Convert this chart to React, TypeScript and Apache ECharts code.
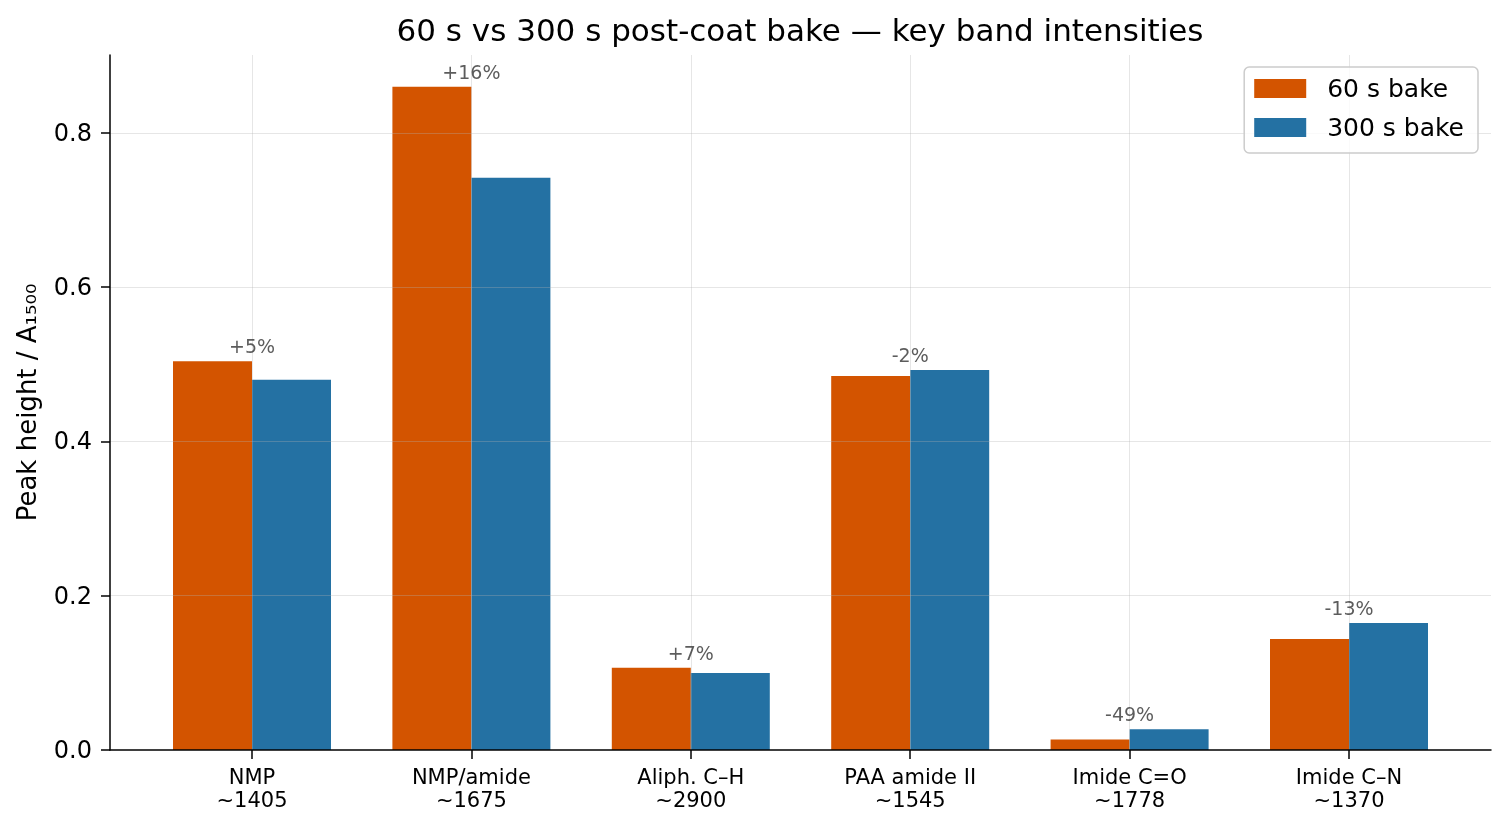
import React, { useEffect, useRef } from "react";
import * as echarts from "echarts";

const categories = [
  "NMP\n~1405",
  "NMP/amide\n~1675",
  "Aliph. C–H\n~2900",
  "PAA amide II\n~1545",
  "Imide C=O\n~1778",
  "Imide C–N\n~1370",
];
const seriesNames = ["60 s bake", "300 s bake"];
const bake60 = [0.504, 0.86, 0.1067, 0.485, 0.0137, 0.144];
const bake300 = [0.48, 0.742, 0.0998, 0.4927, 0.027, 0.1647];
const changeLabels = ["+5%", "+16%", "+7%", "-2%", "-49%", "-13%"];
const yTicks = [0, 0.2, 0.4, 0.6, 0.8];
const yMax = 0.901;
const titleText = "60 s vs 300 s post-coat bake — key band intensities";
const yName = "Peak height / A₁₅₀₀";

const FONT = "DejaVu Sans";
const GRID_LINE = { color: "rgba(176,176,176,0.32)", width: 1 };
const BLACK_LINE = { color: "#000", width: 1.5 };

export default function App() {
  const ref = useRef<HTMLDivElement>(null);
  useEffect(() => {
    if (!ref.current) return;
    const chart = echarts.init(ref.current, undefined, { renderer: "svg" });
    const labelTops = bake60.map((v, i) => Math.max(v, bake300[i]));
    chart.setOption({
      animation: false,
      textStyle: { fontFamily: FONT },
      graphic: [
        {
          type: "text",
          x: 800,
          y: 30,
          z: 10,
          style: {
            text: titleText,
            fontSize: 31,
            fontFamily: FONT,
            fill: "#000",
            textAlign: "center",
            textVerticalAlign: "middle",
          },
        },
      ],
      legend: {
        data: seriesNames,
        orient: "vertical",
        right: 29,
        top: 67,
        itemWidth: 52,
        itemHeight: 19,
        itemGap: 14,
        icon: "rect",
        padding: [9, 14, 13, 10],
        borderColor: "#cccccc",
        borderWidth: 1.5,
        borderRadius: 5,
        backgroundColor: "rgba(255,255,255,0.8)",
        textStyle: {
          fontSize: 25,
          lineHeight: 25,
          color: "#000",
          fontFamily: FONT,
          padding: [0, 0, 0, 16],
        },
        z: 8,
      },
      grid: [
        { left: 110, right: 16, top: 55, bottom: 77 },
        { left: 252, right: 158, top: 55, bottom: 77 },
      ],
      xAxis: [
        {
          gridIndex: 0,
          type: "value",
          min: 0,
          max: 1,
          axisLine: { show: true, onZero: false, lineStyle: BLACK_LINE },
          axisTick: { show: false },
          axisLabel: { show: false },
          splitLine: { show: false },
          z: 5,
        },
        {
          gridIndex: 1,
          type: "category",
          data: categories,
          boundaryGap: false,
          axisLine: { show: false },
          axisTick: { show: true, length: 9, lineStyle: BLACK_LINE },
          axisLabel: {
            interval: 0,
            fontSize: 21,
            lineHeight: 23.5,
            color: "#000",
            margin: 15,
            fontFamily: FONT,
          },
          splitLine: { show: true, lineStyle: GRID_LINE },
          z: 5,
        },
      ],
      yAxis: [
        {
          gridIndex: 0,
          type: "value",
          min: 0,
          max: yMax,
          interval: 0.2,
          axisLine: { show: true, lineStyle: BLACK_LINE },
          axisTick: { show: true, length: 9, customValues: yTicks, lineStyle: BLACK_LINE },
          axisLabel: {
            customValues: yTicks,
            formatter: (v: number) => v.toFixed(1),
            fontSize: 24,
            color: "#000",
            margin: 18,
            fontFamily: FONT,
          },
          splitLine: { show: true, showMinLine: false, showMaxLine: true, lineStyle: GRID_LINE },
          name: yName,
          nameLocation: "middle",
          nameGap: 70,
          nameTextStyle: { fontSize: 26, color: "#000", fontFamily: FONT },
          z: 5,
        },
        { gridIndex: 1, type: "value", min: 0, max: yMax, show: false },
      ],
      series: [
        {
          name: seriesNames[0],
          type: "bar",
          xAxisIndex: 1,
          yAxisIndex: 1,
          data: bake60,
          barWidth: 79,
          barGap: "0%",
          clip: false,
          itemStyle: { color: "#d35400" },
        },
        {
          name: seriesNames[1],
          type: "bar",
          xAxisIndex: 1,
          yAxisIndex: 1,
          data: bake300,
          barWidth: 79,
          barGap: "0%",
          clip: false,
          itemStyle: { color: "#2471a3" },
        },
        {
          type: "scatter",
          xAxisIndex: 1,
          yAxisIndex: 1,
          data: labelTops,
          symbolSize: 1,
          itemStyle: { color: "transparent" },
          clip: false,
          silent: true,
          z: 6,
          label: {
            show: true,
            position: "top",
            distance: 5,
            formatter: (p: any) => changeLabels[p.dataIndex],
            fontSize: 19,
            color: "#333",
            fontFamily: FONT,
          },
        },
      ],
    });
    return () => chart.dispose();
  }, []);
  return (
    <div
      ref={ref}
      style={{ position: "fixed", left: 0, top: 0, width: 1507, height: 827 }}
    />
  );
}
